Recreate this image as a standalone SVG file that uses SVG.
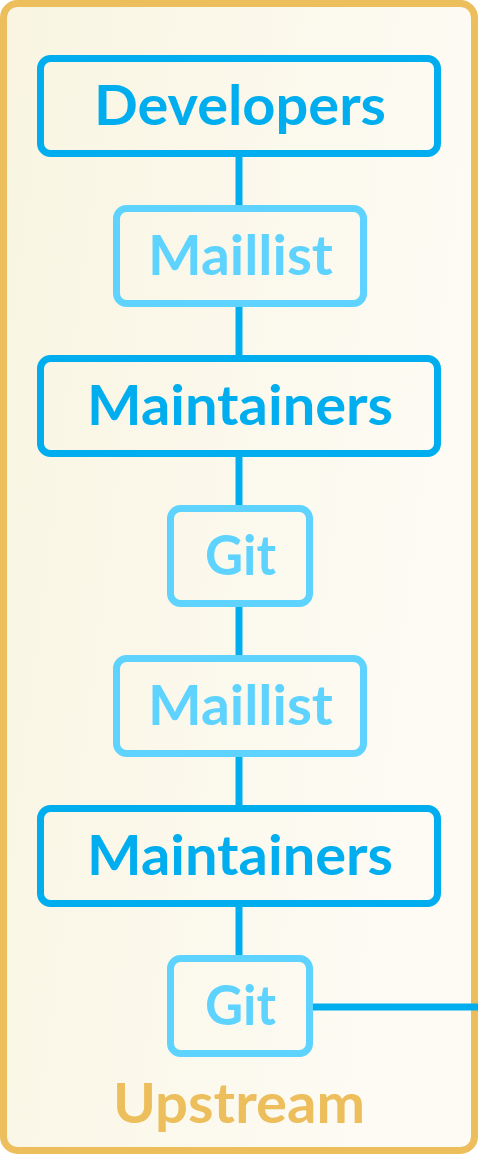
<svg xmlns="http://www.w3.org/2000/svg" width="478" height="1154" viewBox="0 0 478 1154">
<defs>
<linearGradient id="bg" x1="0" y1="0" x2="1" y2="0.3">
<stop offset="0" stop-color="#F9F5E2"/>
<stop offset="1" stop-color="#FDFBF4"/>
</linearGradient>
</defs>
<style>
.frame{fill:url(#bg);stroke:#ECBE5C;stroke-width:7}
.dark rect{fill:none;stroke:#00AEEF;stroke-width:7}
.light rect{fill:none;stroke:#5FD3FF;stroke-width:7}
text{font-family:Lato,"Open Sans","Liberation Sans",sans-serif;font-weight:bold;font-size:55px;text-anchor:middle}
.dark text{fill:#00AEEF}
.light text{fill:#5FD3FF}
.conn line{stroke:#00AEEF;stroke-width:7}
.label{fill:#ECBE5C}
</style>
<rect class="frame" x="3.5" y="3.5" width="471" height="1147" rx="14"/>
<g class="conn" id="connectors">
<line x1="239" y1="157" x2="239" y2="205"/>
<line x1="239" y1="306" x2="239" y2="355"/>
<line x1="239" y1="457" x2="239" y2="505"/>
<line x1="239" y1="606" x2="239" y2="655"/>
<line x1="239" y1="756" x2="239" y2="805"/>
<line x1="239" y1="906" x2="239" y2="955"/>
<line x1="313" y1="1007" x2="478" y2="1007"/>
</g>
<g id="developers" class="dark">
<rect x="40.5" y="58.5" width="397" height="95" rx="10"/>
<text x="240" y="125" textLength="292" lengthAdjust="spacingAndGlyphs">Developers</text>
</g>
<g id="maillist1" class="light">
<rect x="116.5" y="208.5" width="247" height="95" rx="10"/>
<text x="240.5" y="275" textLength="185" lengthAdjust="spacingAndGlyphs">Maillist</text>
</g>
<g id="maintainers1" class="dark">
<rect x="40.5" y="358.5" width="397" height="95" rx="10"/>
<text x="240" y="425" textLength="306" lengthAdjust="spacingAndGlyphs">Maintainers</text>
</g>
<g id="git1" class="light">
<rect x="170.5" y="508.5" width="139" height="95" rx="10"/>
<text x="240.5" y="575" textLength="71" lengthAdjust="spacingAndGlyphs">Git</text>
</g>
<g id="maillist2" class="light">
<rect x="116.5" y="658.5" width="247" height="95" rx="10"/>
<text x="240.5" y="725" textLength="185" lengthAdjust="spacingAndGlyphs">Maillist</text>
</g>
<g id="maintainers2" class="dark">
<rect x="40.5" y="808.5" width="397" height="95" rx="10"/>
<text x="240" y="875" textLength="306" lengthAdjust="spacingAndGlyphs">Maintainers</text>
</g>
<g id="git2" class="light">
<rect x="170.5" y="958.5" width="139" height="95" rx="10"/>
<text x="240.5" y="1025" textLength="71" lengthAdjust="spacingAndGlyphs">Git</text>
</g>
<text class="label" x="239" y="1123" textLength="252" lengthAdjust="spacingAndGlyphs">Upstream</text>
</svg>
